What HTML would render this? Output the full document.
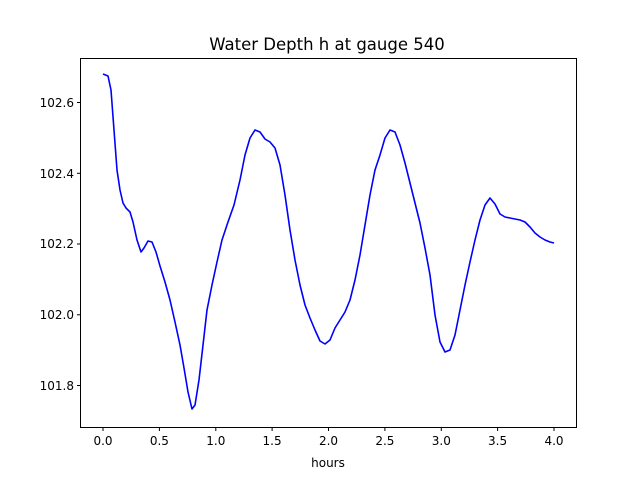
<!DOCTYPE html>
<html><head><style>body{margin:0;background:#fff}svg{display:block;font-family:"DejaVu Sans","Liberation Sans",sans-serif}</style></head>
<body>
<svg width="640" height="480" viewBox="0 0 640 480">
<rect width="640" height="480" fill="#fff"/>
<text x="327" y="50" font-size="16.5" text-anchor="middle">Water Depth h at gauge 540</text>
<rect x="80.5" y="58.5" width="496" height="369" fill="none" stroke="#000" stroke-width="1"/>
<g stroke="#000" stroke-width="1">
<line x1="103" y1="427.5" x2="103" y2="431"/>
<line x1="159.4" y1="427.5" x2="159.4" y2="431"/>
<line x1="215.8" y1="427.5" x2="215.8" y2="431"/>
<line x1="272.1" y1="427.5" x2="272.1" y2="431"/>
<line x1="328.5" y1="427.5" x2="328.5" y2="431"/>
<line x1="384.9" y1="427.5" x2="384.9" y2="431"/>
<line x1="441.3" y1="427.5" x2="441.3" y2="431"/>
<line x1="497.6" y1="427.5" x2="497.6" y2="431"/>
<line x1="554" y1="427.5" x2="554" y2="431"/>
<line x1="77" y1="102.5" x2="80.5" y2="102.5"/>
<line x1="77" y1="173.3" x2="80.5" y2="173.3"/>
<line x1="77" y1="244" x2="80.5" y2="244"/>
<line x1="77" y1="314.8" x2="80.5" y2="314.8"/>
<line x1="77" y1="385.5" x2="80.5" y2="385.5"/>
</g>
<g font-size="12" text-anchor="middle">
<text x="103" y="445">0.0</text><text x="159.4" y="445">0.5</text><text x="215.8" y="445">1.0</text>
<text x="272.1" y="445">1.5</text><text x="328.5" y="445">2.0</text><text x="384.9" y="445">2.5</text>
<text x="441.3" y="445">3.0</text><text x="497.6" y="445">3.5</text><text x="554" y="445">4.0</text>
<text x="328" y="467">hours</text>
</g>
<g font-size="12" text-anchor="end">
<text x="74" y="107">102.6</text><text x="74" y="178">102.4</text><text x="74" y="248">102.2</text>
<text x="74" y="319">102.0</text><text x="74" y="390">101.8</text>
</g>
<polyline fill="none" stroke="#0000ff" stroke-width="1.6" stroke-linejoin="round" points="103,74 108,76 111,90 114,130 117,170 120,190 123,203 126,208 130,212 133,222 137,240 141,252 144,248 148,241 152,242 156,252 160,266 165,282 170,300 175,322 180,345 184,368 188,392 192,409 195,405 199,380 203,345 207,310 212,285 217,262 222,240 228,222 234,205 240,180 245,155 250,138 255,130 260,132 265,139 270,142 275,148 280,165 285,195 290,230 295,260 300,285 305,305 310,318 315,330 320,341 325,344 330,340 335,328 340,320 345,312 350,300 355,280 360,255 365,225 370,195 375,170 380,155 385,138 390,130 395,132 400,145 405,163 410,183 415,203 420,223 425,248 430,275 435,315 440,342 445,352 450,350 455,335 460,310 465,285 470,262 475,240 480,220 485,205 490,198 495,204 500,214 505,217 510,218 515,219 520,220 525,222 530,227 535,233 540,237 545,240 550,242 554,243"/>
</svg>
</body></html>
